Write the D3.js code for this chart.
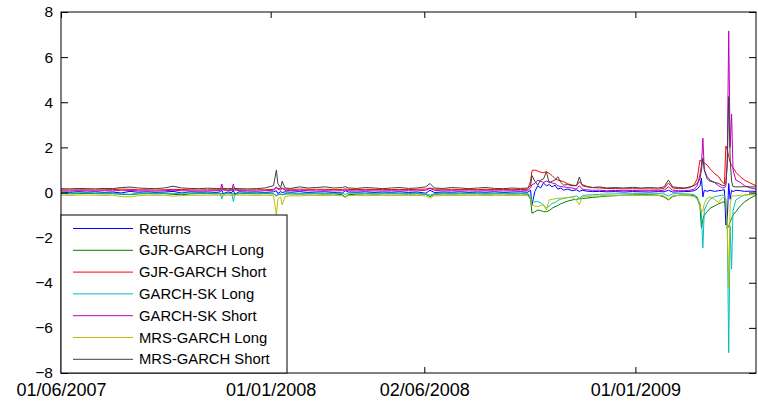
<!DOCTYPE html>
<html>
<head>
<meta charset="utf-8">
<script src="https://cdn.jsdelivr.net/npm/d3@7"></script>
<style>
  html, body { margin: 0; padding: 0; background: #fff; }
  svg { display: block; }
  text { font-family: "Liberation Sans", Arial, sans-serif; fill: #000; }
</style>
</head>
<body>
<div id="chart"></div>
<script>
// ---- data (trading-day index from 01/06/2007) ----
const t = [
  0,6,12,18,24,30,36,42,48,54,
  60,66,72,78,84,90,96,102,108,111,
  112,113,116,119,120,121,124,130,136,142,
  148,150,151,153,154,156,160,166,172,178,
  184,190,196,198,200,206,212,218,224,230,
  236,242,248,254,257,260,266,272,278,284,
  290,296,302,308,314,320,325,327,328,330,
  332,334,336,338,340,342,344,346,348,350,
  353,356,359,361,363,366,370,375,380,386,
  392,398,404,410,416,420,423,426,430,434,
  438,441,443,445,446,447,448,450,452,455,
  458,460,462,463,464,465,466,467,468,470,
  473,476,480,484
];

const returns = [
  0.02,0.0,0.04,0.01,0.03,0.0,0.02,-0.02,0.05,0.01,
  0.03,0.0,0.02,0.05,-0.02,0.03,0.01,0.02,0.0,0.03,
  0.1,-0.05,0.02,0.0,0.12,-0.08,0.03,0.01,0.02,0.0,
  0.03,0.08,-0.05,0.04,0.0,0.03,0.01,0.04,0.0,0.02,
  0.03,0.0,-0.02,0.08,0.02,0.01,0.03,0.0,0.02,0.01,
  0.03,0.0,0.02,-0.03,0.1,0.0,0.02,0.01,0.03,0.0,
  0.02,0.01,0.03,0.0,0.02,0.03,0.01,0.1,-0.55,0.05,
  0.3,0.2,0.42,0.3,0.35,0.25,0.33,0.15,0.2,0.11,
  0.15,0.08,0.12,0.05,0.1,0.06,0.04,0.05,0.03,0.04,
  0.02,0.04,0.03,0.02,0.04,0.03,0.1,0.02,0.03,0.04,
  0.05,0.08,0.15,0.3,0.64,-0.2,0.1,0.05,0.1,0.05,
  0.08,0.1,0.12,-1.44,-1.2,0.4,-0.3,0.1,0.04,0.1,
  0.08,0.05,0.06,0.05
];

const gjrLong = [
  -0.05,-0.06,-0.05,-0.04,-0.05,-0.06,-0.05,-0.08,-0.1,-0.06,
  -0.05,-0.06,-0.05,-0.08,-0.1,-0.06,-0.05,-0.05,-0.06,-0.05,
  -0.06,-0.05,-0.05,-0.06,-0.07,-0.06,-0.05,-0.05,-0.06,-0.05,
  -0.06,-0.15,-0.1,-0.08,-0.1,-0.07,-0.06,-0.07,-0.06,-0.06,
  -0.07,-0.06,-0.1,-0.2,-0.1,-0.07,-0.06,-0.07,-0.06,-0.06,
  -0.06,-0.07,-0.06,-0.08,-0.18,-0.08,-0.06,-0.07,-0.06,-0.06,
  -0.06,-0.07,-0.06,-0.06,-0.07,-0.06,-0.07,-0.3,-0.92,-0.85,
  -0.78,-0.8,-0.85,-0.85,-0.8,-0.7,-0.63,-0.58,-0.5,-0.45,
  -0.38,-0.33,-0.3,-0.28,-0.27,-0.25,-0.22,-0.19,-0.16,-0.14,
  -0.12,-0.11,-0.1,-0.1,-0.12,-0.2,-0.33,-0.18,-0.12,-0.11,
  -0.12,-0.15,-0.25,-0.6,-1.58,-1.2,-1.0,-0.85,-0.7,-0.6,
  -0.5,-0.45,-0.4,-0.6,-1.6,-1.5,-1.3,-1.15,-1.0,-0.85,
  -0.6,-0.42,-0.25,-0.12
];

const gjrShort = [
  0.12,0.11,0.12,0.12,0.11,0.12,0.13,0.15,0.14,0.12,
  0.12,0.11,0.12,0.14,0.13,0.12,0.11,0.12,0.12,0.12,
  0.13,0.12,0.12,0.12,0.13,0.12,0.12,0.11,0.12,0.12,
  0.14,0.2,0.18,0.16,0.18,0.15,0.14,0.15,0.14,0.14,
  0.14,0.13,0.13,0.16,0.14,0.13,0.14,0.13,0.13,0.13,
  0.13,0.13,0.14,0.15,0.2,0.15,0.14,0.14,0.13,0.13,
  0.13,0.14,0.13,0.13,0.14,0.13,0.14,0.5,0.97,1.0,
  0.95,0.9,0.88,0.92,0.85,0.75,0.62,0.55,0.52,0.48,
  0.38,0.33,0.3,0.48,0.35,0.28,0.22,0.2,0.18,0.17,
  0.16,0.17,0.16,0.16,0.15,0.18,0.42,0.2,0.17,0.18,
  0.22,0.35,0.6,1.44,1.4,1.38,1.3,1.22,1.05,0.85,
  0.7,0.5,0.38,2.06,1.9,1.6,1.35,1.2,1.1,0.9,
  0.7,0.55,0.42,0.3
];

const skLong = [
  -0.02,-0.03,-0.01,-0.02,-0.03,-0.02,-0.03,-0.06,-0.08,-0.03,
  -0.02,-0.03,-0.02,-0.05,-0.03,-0.02,-0.03,-0.02,-0.03,-0.05,
  -0.28,-0.08,-0.03,-0.05,-0.4,-0.1,-0.03,-0.02,-0.03,-0.02,
  -0.05,-0.15,-0.1,-0.05,-0.1,-0.04,-0.03,-0.05,-0.03,-0.03,
  -0.04,-0.03,-0.04,-0.08,-0.03,-0.03,-0.04,-0.03,-0.03,-0.04,
  -0.03,-0.04,-0.03,-0.05,-0.12,-0.05,-0.03,-0.04,-0.03,-0.03,
  -0.03,-0.04,-0.03,-0.03,-0.04,-0.03,-0.04,-0.15,-0.4,-0.42,
  -0.4,-0.45,-0.55,-0.69,-0.6,-0.48,-0.45,-0.35,-0.3,-0.26,
  -0.22,-0.2,-0.15,-0.25,-0.15,-0.11,-0.1,-0.08,-0.07,-0.06,
  -0.06,-0.05,-0.05,-0.06,-0.05,-0.06,-0.15,-0.06,-0.05,-0.06,
  -0.07,-0.1,-0.2,-0.5,-1.0,-2.45,-0.78,-0.5,-0.3,-0.19,
  -0.15,-0.12,-0.12,-0.3,-1.5,-7.1,-1.5,-3.4,-0.8,-0.33,
  -0.2,-0.11,-0.08,-0.06
];

const skShort = [
  0.07,0.06,0.08,0.07,0.06,0.08,0.07,0.1,0.09,0.07,
  0.07,0.06,0.08,0.1,0.08,0.07,0.06,0.07,0.08,0.1,
  0.38,0.12,0.08,0.1,0.38,0.12,0.08,0.07,0.06,0.08,
  0.1,0.25,0.15,0.1,0.2,0.1,0.08,0.1,0.08,0.07,
  0.08,0.07,0.08,0.12,0.08,0.07,0.08,0.07,0.07,0.08,
  0.07,0.08,0.07,0.1,0.18,0.1,0.07,0.08,0.07,0.07,
  0.07,0.08,0.07,0.07,0.08,0.07,0.08,0.2,0.35,0.4,
  0.55,0.5,0.45,0.5,0.48,0.42,0.4,0.3,0.26,0.25,
  0.22,0.2,0.15,0.3,0.15,0.12,0.1,0.1,0.08,0.09,
  0.08,0.09,0.08,0.08,0.08,0.1,0.25,0.1,0.08,0.08,
  0.1,0.15,0.3,0.8,1.2,2.41,1.0,0.7,0.55,0.45,
  0.3,0.22,0.2,0.3,1.5,7.16,2.0,3.48,1.0,0.55,
  0.45,0.3,0.2,0.15
];

const mrsLong = [
  -0.12,-0.13,-0.12,-0.11,-0.12,-0.13,-0.12,-0.18,-0.2,-0.14,
  -0.12,-0.13,-0.12,-0.16,-0.14,-0.12,-0.13,-0.12,-0.12,-0.13,
  -0.13,-0.12,-0.12,-0.13,-0.13,-0.12,-0.12,-0.12,-0.13,-0.12,
  -0.14,-1.0,-0.3,-0.2,-0.55,-0.18,-0.14,-0.15,-0.13,-0.13,
  -0.14,-0.13,-0.15,-0.22,-0.14,-0.13,-0.14,-0.13,-0.13,-0.14,
  -0.13,-0.14,-0.13,-0.15,-0.25,-0.15,-0.13,-0.14,-0.13,-0.13,
  -0.13,-0.14,-0.13,-0.13,-0.14,-0.13,-0.14,-0.3,-0.55,-0.6,
  -0.63,-0.58,-0.55,-0.78,-0.33,-0.3,-0.28,-0.26,-0.25,-0.24,
  -0.23,-0.22,-0.35,-0.55,-0.2,-0.18,-0.16,-0.15,-0.14,-0.14,
  -0.13,-0.14,-0.13,-0.14,-0.13,-0.15,-0.3,-0.15,-0.13,-0.14,
  -0.14,-0.18,-0.3,-0.5,-0.9,-0.78,-0.5,-0.25,-0.2,-0.3,
  -0.45,-0.25,-0.2,-0.3,-1.5,-4.2,-0.5,-0.2,-0.15,-0.15,
  -0.12,-0.12,-0.1,-0.1
];

const mrsShort = [
  0.17,0.16,0.18,0.17,0.16,0.18,0.17,0.22,0.24,0.2,
  0.18,0.17,0.2,0.28,0.2,0.18,0.17,0.19,0.18,0.17,
  0.2,0.18,0.17,0.18,0.2,0.18,0.17,0.16,0.17,0.2,
  0.3,1.0,0.4,0.2,0.5,0.2,0.18,0.25,0.2,0.22,
  0.25,0.2,0.22,0.26,0.2,0.18,0.22,0.2,0.17,0.2,
  0.22,0.18,0.2,0.25,0.4,0.2,0.18,0.22,0.2,0.17,
  0.2,0.22,0.18,0.17,0.2,0.18,0.2,0.3,0.75,0.5,
  0.33,0.55,0.6,0.92,0.42,0.5,0.55,0.7,0.45,0.33,
  0.35,0.3,0.3,0.69,0.3,0.25,0.22,0.25,0.2,0.22,
  0.2,0.23,0.2,0.22,0.2,0.25,0.55,0.25,0.22,0.2,
  0.25,0.3,0.4,0.6,1.0,1.53,1.0,0.6,0.5,0.45,
  0.4,0.33,0.3,0.4,1.2,4.25,1.5,0.5,0.26,0.25,
  0.25,0.26,0.25,0.25
];

const seriesNames = ["Returns","GJR-GARCH Long","GJR-GARCH Short","GARCH-SK Long","GARCH-SK Short","MRS-GARCH Long","MRS-GARCH Short"];
const seriesColors = ["#0000ff","#008000","#ff0000","#00bfbf","#bf00bf","#bfbf00","#404040"];
const seriesValues = [returns, gjrLong, gjrShort, skLong, skShort, mrsLong, mrsShort];

const xTickIdx = [0, 146, 253, 400];
const xTickLabels = ["01/06/2007","01/01/2008","02/06/2008","01/01/2009"];
const yTicks = [-8,-6,-4,-2,0,2,4,6,8];

// ---- layout ----
const W = 758, H = 402;
const L = 61, R = 756, T = 12, B = 373;

const svg = d3.select("#chart").append("svg").attr("width", W).attr("height", H);

const x = d3.scaleLinear().domain([0, 484]).range([L, R]);
const y = d3.scaleLinear().domain([-8, 8]).range([B, T]);

// lines
const line = d3.line().x((d, i) => x(t[i])).y(d => y(d));
const plot = svg.append("g");
seriesValues.forEach((vals, k) => {
  plot.append("path")
    .datum(vals)
    .attr("fill", "none")
    .attr("stroke", seriesColors[k])
    .attr("stroke-width", 1)
    .attr("stroke-linejoin", "round")
    .attr("d", line);
});

// axes
const axL = svg.append("g").attr("transform", `translate(${L},0)`)
  .call(d3.axisLeft(y).tickValues(yTicks).tickFormat(d3.format("d")).tickSizeInner(-7).tickSizeOuter(0).tickPadding(8));
const axR = svg.append("g").attr("transform", `translate(${R},0)`)
  .call(d3.axisRight(y).tickValues(yTicks).tickFormat("").tickSizeInner(-7).tickSizeOuter(0));
const axB = svg.append("g").attr("transform", `translate(0,${B})`)
  .call(d3.axisBottom(x).tickValues(xTickIdx).tickFormat((d, i) => xTickLabels[i]).tickSizeInner(-6).tickSizeOuter(0).tickPadding(10));
const axT = svg.append("g").attr("transform", `translate(0,${T})`)
  .call(d3.axisTop(x).tickValues(xTickIdx).tickFormat("").tickSizeInner(-6).tickSizeOuter(0));

[axL, axR, axB, axT].forEach(g => {
  g.select(".domain").remove();
  g.selectAll(".tick line").attr("stroke", "#000");
});
axL.selectAll("text").attr("font-size", "15.5px").attr("font-family", "Liberation Sans, Arial, sans-serif").attr("fill", "#000");
axB.selectAll("text").attr("font-size", "18px").attr("font-family", "Liberation Sans, Arial, sans-serif").attr("fill", "#000");

// frame
svg.append("rect").attr("x", L).attr("y", T).attr("width", R - L).attr("height", B - T)
  .attr("fill", "none").attr("stroke", "#000").attr("stroke-width", 1);

// legend
const lg = svg.append("g");
lg.append("rect").attr("x", L).attr("y", 215).attr("width", 287 - L).attr("height", B - 215)
  .attr("fill", "#fff").attr("stroke", "#000").attr("stroke-width", 1);
seriesNames.forEach((name, k) => {
  const yy = 228.5 + k * 21.8;
  lg.append("line").attr("x1", 73).attr("x2", 133).attr("y1", yy).attr("y2", yy)
    .attr("stroke", seriesColors[k]).attr("stroke-width", 1);
  lg.append("text").attr("x", 139).attr("y", yy).attr("dy", "0.35em")
    .attr("font-size", "14.8px").text(name);
});
</script>
</body>
</html>
